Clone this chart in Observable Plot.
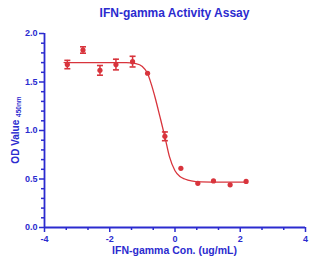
<!DOCTYPE html>
<html>
<head>
<meta charset="utf-8">
<script src="https://cdn.jsdelivr.net/npm/d3@7"></script>
<script src="https://cdn.jsdelivr.net/npm/@observablehq/plot@0.6"></script>
<style>
  html, body { margin: 0; padding: 0; background: #fff; }
</style>
</head>
<body>
<div id="chart"></div>
<script>
// ---- data ----
const logConc = [-3.30, -2.82, -2.30, -1.81, -1.30, -0.84, -0.31, 0.18, 0.70, 1.18, 1.69, 2.18];
const odValue = [1.68, 1.83, 1.62, 1.68, 1.71, 1.59, 0.94, 0.61, 0.455, 0.48, 0.44, 0.475];
const odError = [0.043, 0.033, 0.05, 0.055, 0.055, 0, 0.045, 0, 0, 0, 0, 0];

// fitted curve
const fitX = [-3.4, -2.5, -2.0, -1.5, -1.2, -1.0, -0.85, -0.72, -0.61, -0.46, -0.31, -0.17, 0.0, 0.15, 0.3, 0.5, 0.8, 1.2, 1.7, 2.2];
const fitY = [1.70, 1.70, 1.70, 1.70, 1.69, 1.66, 1.595, 1.47, 1.34, 1.14, 0.935, 0.73, 0.585, 0.525, 0.50, 0.48, 0.47, 0.468, 0.467, 0.467];

const xMajor = [-4, -2, 0, 2, 4];
const xMinor = [-3.333, -2.667, -1.333, -0.667, 0.667, 1.333, 2.667, 3.333];
const yMajor = [0, 0.5, 1.0, 1.5, 2.0];
const yMinor = [0.1, 0.2, 0.3, 0.4, 0.6, 0.7, 0.8, 0.9, 1.1, 1.2, 1.3, 1.4, 1.6, 1.7, 1.8, 1.9];

const titleText = "IFN-gamma Activity Assay";
const xLabelText = "IFN-gamma Con. (ug/mL)";
const yLabelMain = "OD Value";
const yLabelSub = "450nm";

const blue = "#2b2bcf";
const red = "#d8343c";

const points = logConc.map((x, i) => ({x, y: odValue[i], e: odError[i]}));
const curve = fitX.map((x, i) => ({x, y: fitY[i]}));

const capSymbol = {
  draw(ctx, size) {
    const r = Math.sqrt(size / Math.PI);
    ctx.moveTo(-r, 0);
    ctx.lineTo(r, 0);
  }
};

const svg = Plot.plot({
  width: 316,
  height: 271,
  marginLeft: 44,
  marginRight: 11,
  marginTop: 33,
  marginBottom: 44,
  style: {fontFamily: "'Liberation Sans', Arial, sans-serif", fontWeight: "bold", color: blue, background: "#fff"},
  x: {domain: [-4, 4]},
  y: {domain: [0, 2]},
  marks: [
    Plot.axisX({ticks: xMajor, tickSize: 5, tickPadding: 3, strokeWidth: 1.5, fontSize: 9, label: null, tickFormat: d => String(d).replace("-", "-")}),
    Plot.axisX({ticks: xMinor, tickSize: 3, strokeWidth: 1.5, tickFormat: () => "", label: null}),
    Plot.axisY({ticks: yMajor, tickSize: 5, tickPadding: 2, strokeWidth: 1.5, fontSize: 9, label: null, tickFormat: d3.format(".1f")}),
    Plot.axisY({ticks: yMinor, tickSize: 3, strokeWidth: 1.5, tickFormat: () => "", label: null}),
    Plot.ruleY([0], {stroke: blue, strokeWidth: 1.8}),
    Plot.ruleX([-4], {stroke: blue, strokeWidth: 1.8}),
    Plot.line(curve, {x: "x", y: "y", curve: "monotone-x", stroke: red, strokeWidth: 1.3}),
    Plot.ruleX(points, {filter: d => d.e > 0, x: "x", y1: d => d.y - d.e, y2: d => d.y + d.e, stroke: red, strokeWidth: 1.5}),
    Plot.dot(points, {filter: d => d.e > 0, x: "x", y: d => d.y - d.e, symbol: capSymbol, r: 3, stroke: red, strokeWidth: 1.6}),
    Plot.dot(points, {filter: d => d.e > 0, x: "x", y: d => d.y + d.e, symbol: capSymbol, r: 3, stroke: red, strokeWidth: 1.6}),
    Plot.dot(points, {x: "x", y: "y", r: 2.6, fill: red, stroke: "none"})
  ]
});

const s = d3.select(svg);
s.append("text")
  .attr("x", 174.5).attr("y", 17)
  .attr("text-anchor", "middle")
  .attr("fill", blue)
  .attr("font-size", 12).attr("font-weight", "bold")
  .text(titleText);
s.append("text")
  .attr("x", 174.5).attr("y", 254)
  .attr("text-anchor", "middle")
  .attr("fill", blue)
  .attr("font-size", 10.5).attr("font-weight", "bold")
  .text(xLabelText);
const yl = s.append("text")
  .attr("transform", "translate(19,130) rotate(-90)")
  .attr("text-anchor", "middle")
  .attr("fill", blue)
  .attr("font-size", 10).attr("font-weight", "bold");
yl.append("tspan").text(yLabelMain + " ");
yl.append("tspan").attr("font-size", 6.5).attr("dy", 2).text(yLabelSub);

document.getElementById("chart").appendChild(svg);
</script>
</body>
</html>
